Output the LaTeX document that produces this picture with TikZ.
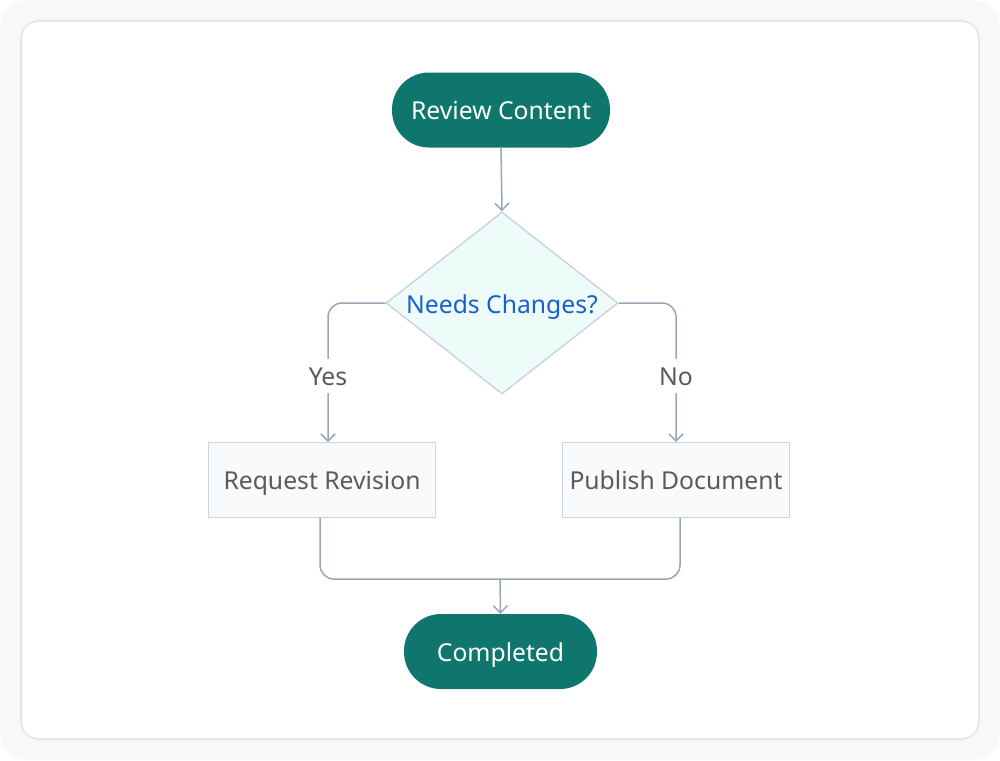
\documentclass[tikz,border=0pt]{standalone}
\usepackage{fontspec}
\setmainfont{Noto Sans}
\usetikzlibrary{shapes.geometric,arrows.meta,calc}
\definecolor{teal}{HTML}{0F766E}
\definecolor{mint}{HTML}{EEFCF9}
\definecolor{edge}{HTML}{CBD5E1}
\definecolor{wire}{HTML}{9AA6B8}
\definecolor{qblue}{HTML}{1A5FD0}
\definecolor{boxfill}{HTML}{F8FAFC}
\definecolor{txtgray}{HTML}{5A5A5A}
\definecolor{bg}{HTML}{F8F8F8}
\definecolor{cardline}{HTML}{E3E3E3}
\tikzset{
  txt/.style={font=\fontsize{24.7}{28}\selectfont, text height=24.7pt, text depth=5pt},
  terminal/.style={txt, rectangle, rounded corners=37pt, fill=teal, text=white,
    minimum height=75pt, inner sep=0pt},
  process/.style={txt, rectangle, draw=edge, line width=1pt, fill=boxfill, text=txtgray,
    minimum width=227pt, minimum height=75pt, inner sep=0pt},
  decision/.style={diamond, draw=edge, line width=1.5pt, fill=mint,
    minimum width=232pt, minimum height=182pt, inner sep=0pt},
  dectext/.style={txt, text=qblue, inner sep=0pt},
  lbl/.style={txt, fill=white, text=txtgray, inner sep=2pt},
  wireline/.style={draw=wire, line width=1.5pt, rounded corners=14pt},
  arrowline/.style={wireline, -{Straight Barb[length=7pt,width=14pt,line width=1.5pt]}},
}
\begin{document}
\begin{tikzpicture}[x=1pt,y=-1pt]
\useasboundingbox (0,0) rectangle (1000,760);
\fill[bg, rounded corners=28pt] (0,0) rectangle (1000,760);
\draw[cardline, fill=white, line width=1.5pt, rounded corners=18pt] (21,21) rectangle (979,739);

\node[terminal, minimum width=218pt] (review) at (501,110) {Review Content};
\node[decision] (dec) at (502,303) {};
\node[dectext] (dect) at ([yshift=-1pt]dec.center) {Needs Changes?};
\node[process] (rr) at (322,480) {Request Revision};
\node[process] (pd) at (676,480) {Publish Document};
\node[terminal, minimum width=193pt] (done) at (500.5,651.5) {Completed};
\coordinate (merge) at (500,579);

\draw[arrowline] (review.south) -- (dec.north);
\draw[arrowline] (dec.west) -| ([xshift=6pt]rr.north);
\draw[arrowline] (dec.east) -| (pd.north);
\node[lbl] (yes) at (328,376) {Yes};
\node[lbl] (no) at (676,376) {No};
\draw[wireline] ([xshift=-2pt]rr.south) |- (merge);
\draw[wireline] ([xshift=4pt]pd.south) |- (merge);
\draw[arrowline] (merge) -- (done.north);
\end{tikzpicture}
\end{document}
